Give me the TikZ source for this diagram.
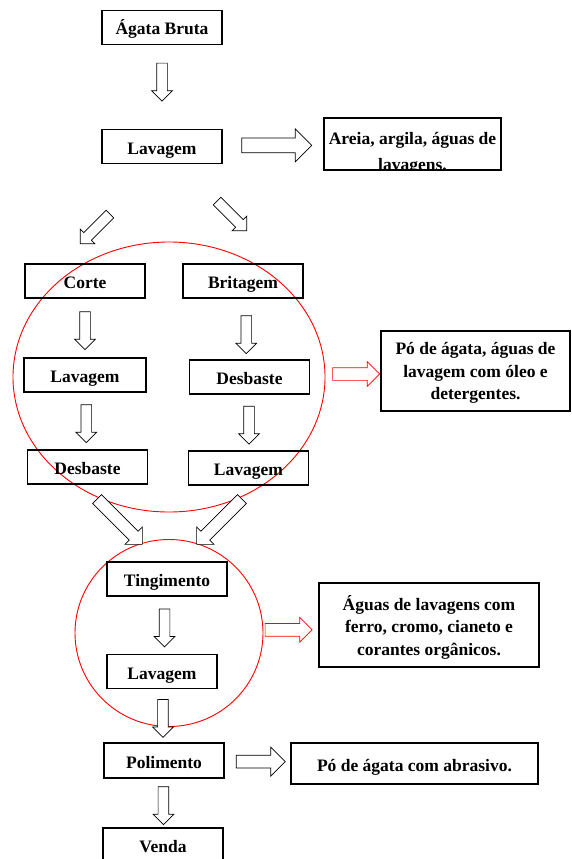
\documentclass[tikz,border=0pt]{standalone}
\usepackage{fontspec}
\setmainfont{Liberation Serif}
\usetikzlibrary{shapes.arrows, shapes.geometric}

\begin{document}
\begin{tikzpicture}[x=1pt, y=-1pt,
		box/.style={draw, line width=1.2pt, inner sep=2pt, font=\bfseries\fontsize{17.5}{22.5}\selectfont},
		stage/.style={box, minimum width=120, minimum height=34, text height=15pt, text depth=0pt},
		waste/.style={box, align=center, text depth=0pt},
		flow/.style={single arrow, draw, line width=0.7pt, fill=white, inner xsep=0pt, inner ysep=5pt,
				single arrow head extend=5pt, minimum height=38},
		down/.style={flow, rotate=-90},
		wide flow/.style={flow, inner ysep=7pt, single arrow head extend=9pt},
		red flow/.style={flow, draw=red, inner ysep=6pt, single arrow head extend=6pt, minimum height=47},
		zone/.style={ellipse, draw=red, line width=0.9pt, inner sep=0pt}]
		\useasboundingbox (0,0) rectangle (571,859);
		% main line
		\node[stage] (agata) at (162,27.5) {Ágata Bruta};
		\node[stage] (lav1) at (162,146.5) {Lavagem};
		\node[box, minimum width=177, minimum height=52] (areia) at (412.5,144) {};
		\begin{scope}
				\clip (areia.south west) rectangle (areia.north east);
				\node[font=\bfseries\fontsize{17.5}{25.5}\selectfont, align=center] at (412.5,153.5) {Areia, argila, águas de\\lavagens.};
		\end{scope}
		% two branches
		\node[zone, minimum width=312, minimum height=270] (zone1) at (169,377) {};
		\node[stage] (corte) at (85,281) {Corte};
		\node[stage] (brit) at (243,281) {Britagem};
		\node[stage, minimum width=122] (lav2) at (85,375) {Lavagem};
		\node[stage] (desb2) at (249.5,377) {Desbaste};
		\node[stage] (desb1) at (87.5,467) {Desbaste};
		\node[stage] (lav3) at (248.5,468) {Lavagem};
		\node[waste, minimum width=189, minimum height=80] (po) at (475.5,371) {Pó de ágata, águas de\\lavagem com óleo e\\detergentes.};
		% dyeing
		\node[zone, minimum width=188, minimum height=187] (zone2) at (169,633) {};
		\node[stage] (ting) at (167,579) {Tingimento};
		\node[stage, minimum width=110] (lav4) at (162,671.5) {Lavagem};
		\node[waste, minimum width=220, minimum height=84] (aguas) at (429,625) {Águas de lavagens com\\ferro, cromo, cianeto e\\corantes orgânicos.};
		% end
		\node[stage, minimum height=35] (pol) at (164,760.5) {Polimento};
		\node[stage, minimum width=247, minimum height=41] (abras) at (414.5,763.5) {Pó de ágata com abrasivo.};
		\node[stage] (venda) at (163,845) {Venda};

		% arrows
		\path (agata) -- node[down, pos=0.41] (a1) {} (lav1);
		\path (lav1) -- node[wide flow, minimum height=70] (a2) {} (areia);
		\node[flow, minimum height=42, rotate=-135] (a3) at (97,227) {};
		\node[flow, minimum height=42, rotate=-45] (a4) at (230,214) {};
		\path (corte) -- node[down] (a5) {} (lav2);
		\path (brit.south) -- node[down, xshift=3pt] (a6) {} (desb2.north);
		\path (lav2) -- node[down] (a7) {} (desb1);
		\path (desb2) -- node[down] (a8) {} (lav3);
		\path (zone1.east) -- node[red flow] (a9) {} (po.west);
		\node[flow, minimum height=64, inner ysep=6pt, single arrow head extend=6pt, rotate=-45] (a10) at (117.5,519.5) {};
		\node[flow, minimum height=64, inner ysep=6pt, single arrow head extend=6pt, rotate=-135] (a11) at (221.5,519.5) {};
		\path (ting) -- node[down] (a12) {} (lav4);
		\path (zone2.east) -- node[red flow, pos=0.4] (a13) {} (aguas.west);
		\path (lav4) -- node[down] (a14) {} (pol);
		\path (pol) -- node[wide flow, minimum height=49, inner ysep=6pt, single arrow head extend=8pt] (a15) {} (abras);
		\path (pol) -- node[down] (a16) {} (venda);
\end{tikzpicture}
\end{document}
